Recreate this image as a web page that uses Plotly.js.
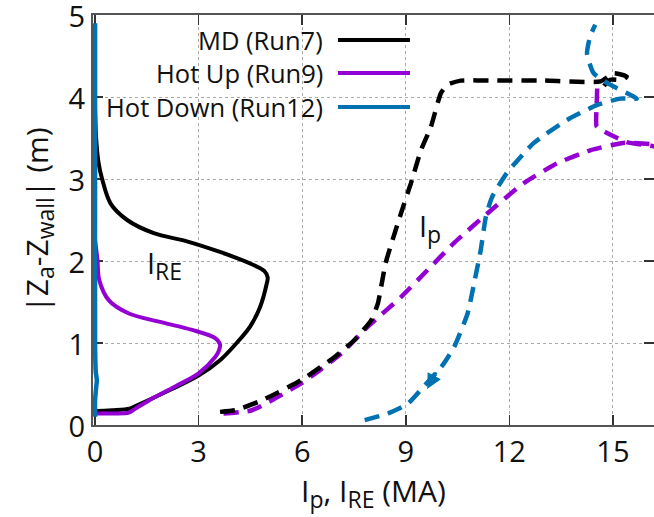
<!DOCTYPE html>
<html>
<head>
<meta charset="utf-8">
<script src="https://cdn.plot.ly/plotly-3.0.1.min.js"></script>
<style>html,body{margin:0;padding:0;background:#fff;}#chart{width:654px;height:517px;}</style>
</head>
<body>
<div id="chart"></div>
<script>
// Series names
var seriesNames = ["MD (Run7)", "Hot Up (Run9)", "Hot Down (Run12)"];
var seriesColors = ["#000000", "#9400d3", "#0072b2"];

// I_RE (solid) curves: x = current (MA), y = |Za - Zwall| (m)
var ireMD_x = [0, 0.03, 0.1, 0.21, 0.45, 0.93, 1.7, 2.66, 3.62, 4.49, 4.9, 5.0, 4.97, 4.78, 4.49, 4.1, 3.62, 2.95, 2.18, 1.22, 1.0, 0.5, 0.07, 0];
var ireMD_y = [3.85, 3.5, 3.2, 2.99, 2.70, 2.50, 2.34, 2.24, 2.11, 1.97, 1.88, 1.80, 1.72, 1.44, 1.20, 1.0, 0.79, 0.59, 0.43, 0.24, 0.20, 0.18, 0.17, 0.17];

var ireUp_x = [0, 0.07, 0.12, 0.4, 0.98, 1.85, 2.81, 3.48, 3.62, 3.58, 3.48, 3.0, 2.32, 1.56, 1.17, 0.98, 0.5, 0.12, 0];
var ireUp_y = [2.25, 2.01, 1.77, 1.52, 1.36, 1.26, 1.16, 1.06, 0.98, 0.9, 0.83, 0.63, 0.47, 0.30, 0.20, 0.15, 0.14, 0.14, 0.14];

var ireDown_x = [0, 0, 0.03, 0.05, 0.02, 0, 0, 0];
var ireDown_y = [0.1, 0.3, 0.45, 0.55, 0.65, 1.0, 3.0, 4.9];

// I_p (dashed) curves
var ipMD_x = [3.62, 4.06, 4.83, 5.98, 6.94, 7.52, 8.0, 8.19, 8.42, 8.86, 9.15, 9.44, 9.73, 10.02, 10.21, 10.59, 11.5, 13.0, 14.64, 15.02, 15.4, 15.3, 14.92, 14.73];
var ipMD_y = [0.16, 0.18, 0.30, 0.55, 0.83, 1.04, 1.28, 1.48, 1.98, 2.58, 2.95, 3.35, 3.64, 4.05, 4.15, 4.20, 4.20, 4.20, 4.19, 4.29, 4.25, 4.21, 4.21, 4.13];

var ipUp_x = [3.72, 4.54, 5.98, 7.13, 7.90, 8.86, 9.63, 10.4, 11.36, 12.42, 13.38, 14.34, 15.3, 16.17, 16.4, 16.17, 15.4, 14.83, 14.53, 14.53, 14.55];
var ipUp_y = [0.14, 0.18, 0.51, 0.87, 1.20, 1.56, 1.89, 2.22, 2.58, 2.95, 3.19, 3.35, 3.44, 3.42, 3.38, 3.40, 3.45, 3.56, 3.64, 3.9, 4.17];

var ipDown_x = [7.81, 8.48, 9.06, 9.54, 10.05, 10.4, 10.79, 10.98, 11.17, 11.32, 11.5, 11.94, 12.71, 13.67, 14.53, 15.21, 15.69, 14.92, 14.44, 14.25, 14.34, 14.49];
var ipDown_y = [0.06, 0.14, 0.26, 0.48, 0.72, 0.95, 1.36, 1.73, 2.13, 2.54, 2.78, 3.08, 3.44, 3.72, 3.90, 3.98, 3.98, 4.15, 4.29, 4.53, 4.74, 4.88];

// Axis ticks
var xTicks = [0, 3, 6, 9, 12, 15];
var yTicks = [0, 1, 2, 3, 4, 5];

var FONT = "'Open Sans', sans-serif";
var DASH = "15px,9px";

function sub(t, px) { return "<sub><span style='font-size:" + px + "px'>" + t + "</span></sub>"; }

function solid(x, y, i, w) {
  return {x: x, y: y, type: "scatter", mode: "lines", name: seriesNames[i], showlegend: false,
    line: {color: seriesColors[i], width: w || 4, shape: "spline", smoothing: 0.9}};
}
function dashed(x, y, i) {
  return {x: x, y: y, type: "scatter", mode: "lines", name: seriesNames[i] + " Ip", showlegend: false,
    line: {color: seriesColors[i], width: 4.5, dash: DASH, shape: "spline", smoothing: 0.5}};
}

var traces = [
  dashed(ipUp_x, ipUp_y, 1),
  dashed(ipMD_x, ipMD_y, 0),
  dashed(ipDown_x, ipDown_y, 2),
  solid(ireMD_x, ireMD_y, 0),
  solid(ireUp_x, ireUp_y, 1),
  solid(ireDown_x, ireDown_y, 2, 4.5)
];

// legend (gnuplot style: text then line sample)
var legRowsY = [0.939, 0.8585, 0.7756];
var shapes = [{type: "rect", xref: "paper", yref: "paper", x0: 0.021, x1: 0.586, y0: 0.732, y1: 1,
  fillcolor: "#ffffff", line: {width: 0}, layer: "between"}];
var annotations = [];
for (var i = 0; i < seriesNames.length; i++) {
  shapes.push({type: "line", xref: "paper", yref: "paper", x0: 0.4367, x1: 0.565, y0: legRowsY[i], y1: legRowsY[i],
    line: {color: seriesColors[i], width: 4}, layer: "above"});
  annotations.push({xref: "paper", yref: "paper", x: 0.4135, y: legRowsY[i], xanchor: "right", yanchor: "middle",
    text: seriesNames[i], showarrow: false, font: {family: FONT, size: 25.5, color: "#111"}});
}
annotations.push({xref: "x", yref: "y", x: 2.0, y: 1.95, text: "I" + sub("RE", 23), showarrow: false,
  font: {family: FONT, size: 29, color: "#111"}});
annotations.push({xref: "x", yref: "y", x: 9.7, y: 2.4, text: "I" + sub("p", 23), showarrow: false,
  font: {family: FONT, size: 29, color: "#111"}});
// direction arrowhead on the Hot Down Ip curve
annotations.push({xref: "x", yref: "y", x: 9.62, y: 0.44, axref: "x", ayref: "y", ax: 9.9, ay: 0.66,
  text: "", showarrow: true, arrowhead: 2, arrowsize: 1, arrowwidth: 3, arrowcolor: seriesColors[2]});

var axisCommon = {
  showline: true, mirror: "ticks", linecolor: "#555", linewidth: 2,
  ticks: "inside", ticklen: 10, tickwidth: 1.5, tickcolor: "#333",
  showgrid: true, gridcolor: "#aaa", gridwidth: 1, griddash: "dot",
  zeroline: false, layer: "below traces", ticklabeloverflow: "allow",
  tickfont: {family: FONT, size: 29, color: "#111"}
};

var layout = {
  width: 654, height: 517,
  margin: {l: 93, r: 0, t: 15, b: 92},
  paper_bgcolor: "#fff", plot_bgcolor: "#fff",
  showlegend: false,
  xaxis: Object.assign({}, axisCommon, {range: [-0.06, 16.19], tickvals: xTicks, ticktext: xTicks.map(String),
    title: {text: "I" + sub("p", 23) + ", I" + sub("RE", 23) + " (MA)", font: {family: FONT, size: 30, color: "#111"}, standoff: 10}}),
  yaxis: Object.assign({}, axisCommon, {range: [0, 5], tickvals: yTicks, ticktext: yTicks.map(String),
    ticklabelshift: 2,
    title: {text: "|Z" + sub("a", 23) + "-Z" + sub("wall", 23) + "| (m)", font: {family: FONT, size: 30, color: "#111"}, standoff: 11}}),
  shapes: shapes,
  annotations: annotations
};

Plotly.newPlot("chart", traces, layout, {displayModeBar: false, staticPlot: true});
</script>
</body>
</html>
